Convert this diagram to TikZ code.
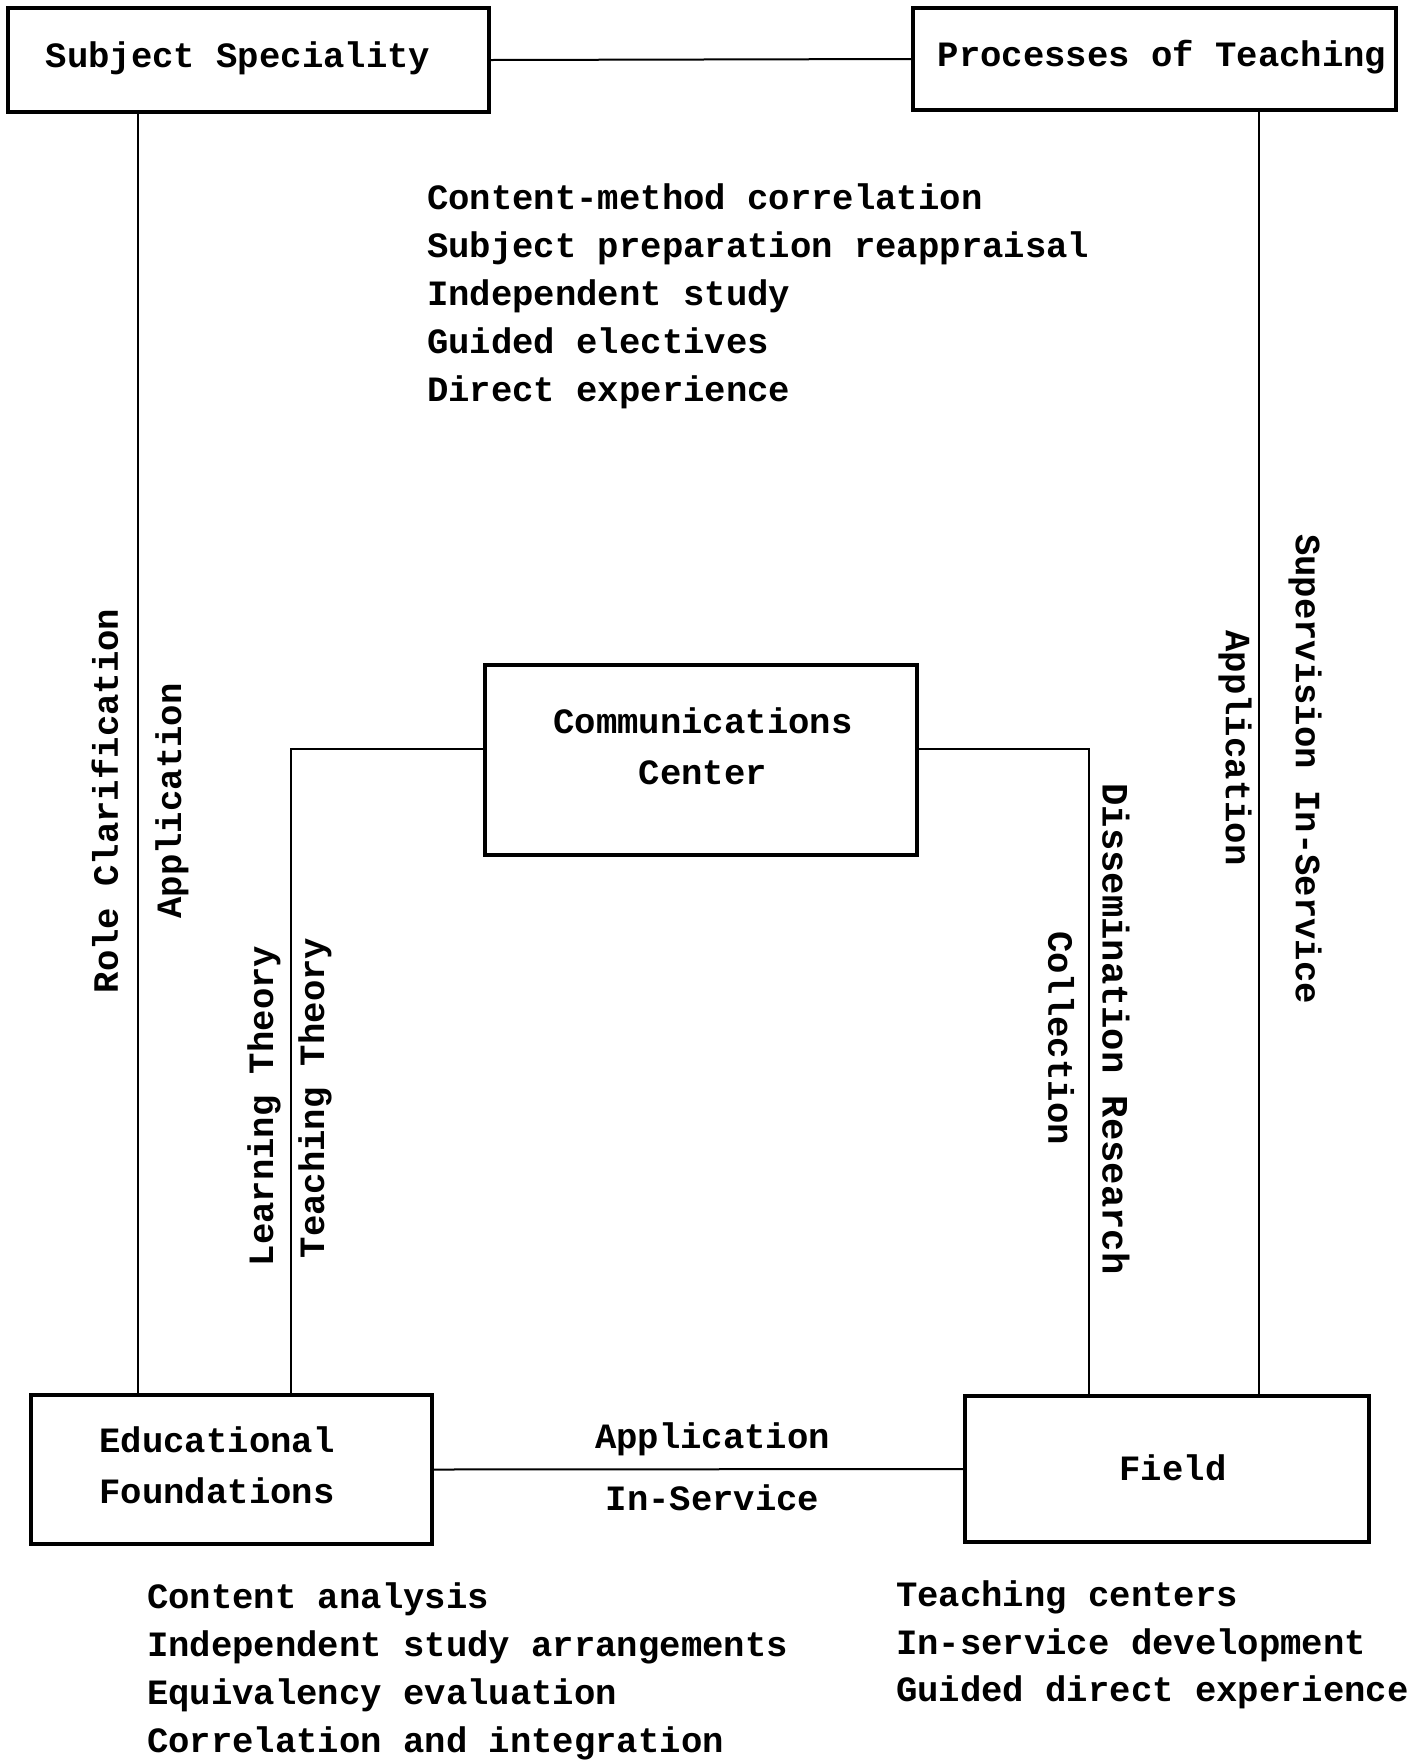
\documentclass[tikz,border=0pt]{standalone}
\usepackage{fontspec}
\setmainfont{Liberation Mono}
\usetikzlibrary{positioning}

\begin{document}
\begin{tikzpicture}[x=0.5pt,y=-0.5pt,
    every node/.style={font=\fontsize{17.8}{25.5}\selectfont\bfseries},
    box/.style={draw,line width=1.6pt,inner sep=0pt,align=center},
    link/.style={line width=1pt}]
    \useasboundingbox (0,0) rectangle (1425,1763);
    \node[box,minimum width=240.5pt,minimum height=52pt] (subj) at (248.5,60) {};
    \node (subjtxt) at (238,58) {Subject Speciality};
    \node[box,minimum width=241.5pt,minimum height=51pt] (proc) at (1154.5,59) {};
    \node (proctxt) at (1162,57) {Processes of Teaching};
    \node[box,minimum width=216pt,minimum height=95pt] (comm) at (701,760) {};
    \node[align=center] (commtxt) at (703,746) {Communications\\Center};
    \node[box,minimum width=200.5pt,minimum height=74.5pt] (found) at (231.5,1469.5) {};
    \node[align=center] (foundtxt) at (217,1465) {Educational\\Foundations};
    \node[box,minimum width=202pt,minimum height=73pt] (field) at (1167,1469) {};
    \node (fieldtxt) at (1173,1468) {Field};
    \coordinate (outl) at (138,0);
    \coordinate (outr) at (1259,0);
    \coordinate (inl) at (291,749);
    \coordinate (inr) at (1089,749);
    \draw[link] (subj.east) -- (proc.west);
    \draw[link] (outl |- subj.south) -- (outl |- found.north);
    \draw[link] (outr |- proc.south) -- (outr |- field.north);
    \draw[link] (comm.west |- inl) -- (inl) -- (inl |- found.north);
    \draw[link] (comm.east |- inr) -- (inr) -- (inr |- field.north);
    \draw[link] (found.east) -- node[above=3pt,xshift=7pt] (appb) {Application}
        node[below=4pt,xshift=7pt] (servb) {In-Service} (field.west);
    \node[rotate=90] (role) at (105,801) {Role Clarification};
    \node[rotate=90] (appl) at (172,801) {Application};
    \node[rotate=90] (learn) at (264,1106) {Learning Theory};
    \node[rotate=90] (teach) at (315,1098) {Teaching Theory};
    \node[rotate=-90,font=\fontsize{18.6}{22}\selectfont\bfseries] (dissem) at (1116,1029) {Dissemination Research};
    \node[rotate=-90] (coll) at (1061,1038) {Collection};
    \node[rotate=-90] (superv) at (1305,769) {Supervision In-Service};
    \node[rotate=-90] (appr) at (1235,748) {Application};
    \foreach \txt [count=\i] in {Content-method correlation,Subject preparation reappraisal,
        Independent study,Guided electives,Direct experience}
        \node[anchor=base west] (top\i) at (420,161+48*\i) {\txt};
    \foreach \txt [count=\i] in {Content analysis,Independent study arrangements,
        Equivalency evaluation,Correlation and integration}
        \node[anchor=base west] (left\i) at (140,1560+48*\i) {\txt};
    \foreach \txt [count=\i] in {Teaching centers,In-service development,Guided direct experience}
        \node[anchor=base west] (right\i) at (889,1559+47.5*\i) {\txt};
\end{tikzpicture}
\end{document}
